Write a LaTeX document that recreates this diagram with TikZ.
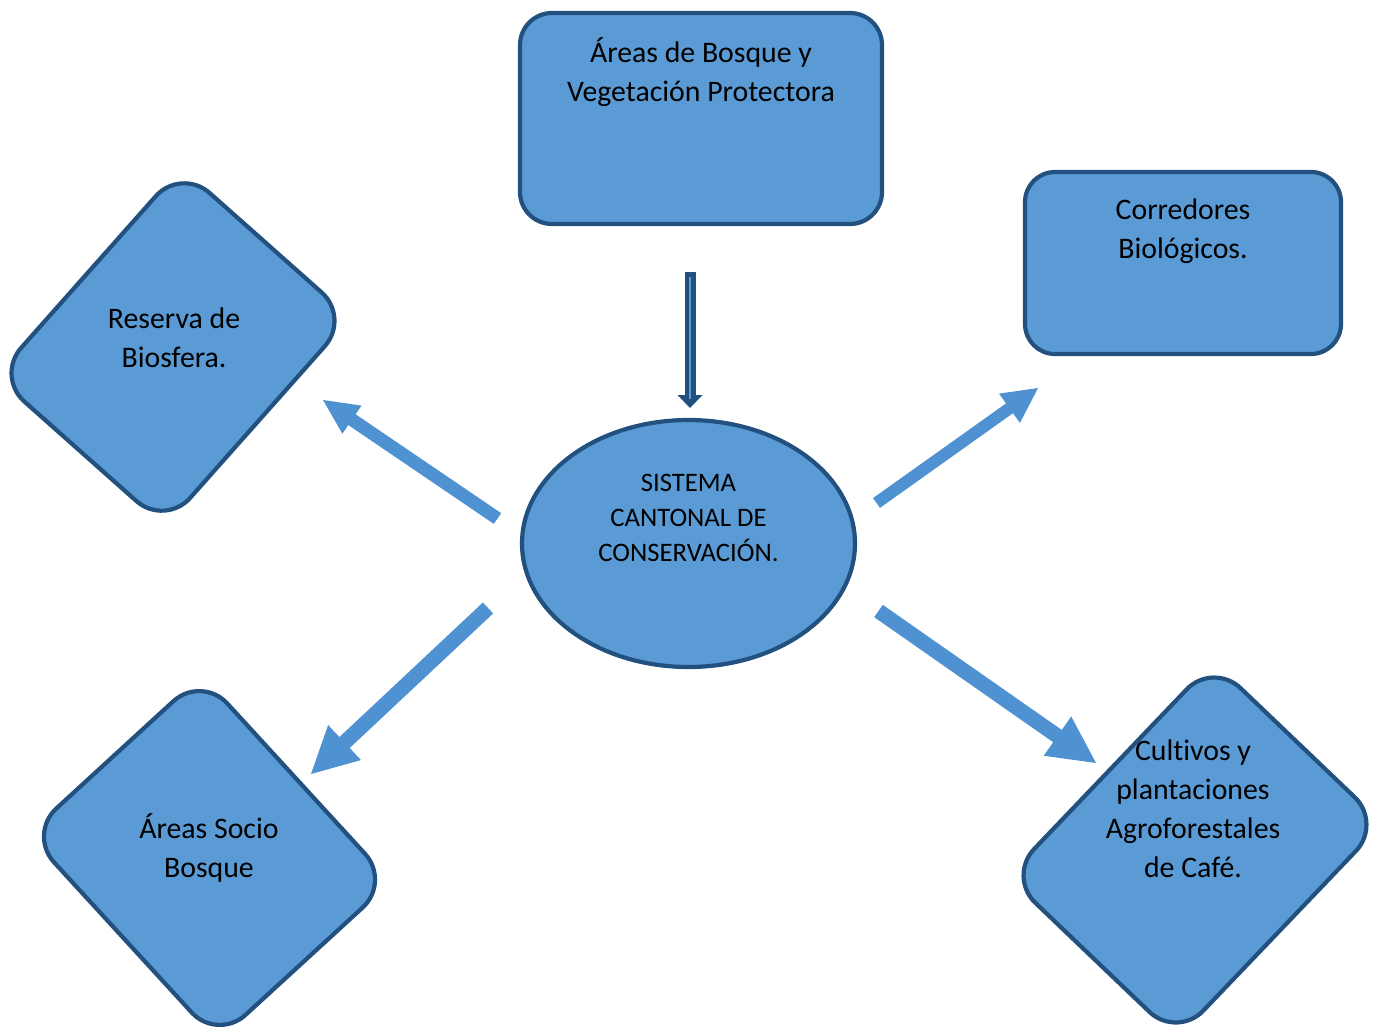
\documentclass[tikz,border=0pt]{standalone}
\usepackage{fontspec}
\setmainfont{Carlito}[Ligatures=NoCommon]
\usetikzlibrary{shapes.geometric,calc}
\definecolor{fillblue}{HTML}{5B9BD5}
\definecolor{edgeblue}{HTML}{22507F}
\definecolor{arrowblue}{HTML}{4F92D2}
\tikzset{
  shapebox/.style={draw=edgeblue, fill=fillblue, line width=4.2pt, inner sep=0pt, outer sep=0pt},
  lbl/.style={align=center, inner sep=0pt, anchor=north, text=black, font=\fontsize{29.8}{39}\selectfont},
  lblsmall/.style={align=center, inner sep=0pt, anchor=north, text=black, font=\fontsize{26.7}{35}\selectfont},
}
% tail, tip, half shaft width, half head width, head length
\newcommand\blkarrow[5]{%
  \coordinate (hb) at ($(#2)!#5!(#1)$);
  \fill[arrowblue] ($(#1)!#3!90:(#2)$) -- ($(hb)!#3!90:(#2)$) -- ($(hb)!#4!90:(#2)$) -- (#2)
    -- ($(hb)!#4!-90:(#2)$) -- ($(hb)!#3!-90:(#2)$) -- ($(#1)!#3!-90:(#2)$) -- cycle;}
\begin{document}
\begin{tikzpicture}[x=1pt,y=-1pt]
\useasboundingbox (0,0) rectangle (1374,1028);
\fill[white] (0,0) rectangle (1374,1028);

% shapes
\node[shapebox, rounded corners=32pt, minimum width=362pt, minimum height=211pt] (top) at (701,118.5) {};
\node[shapebox, rounded corners=30pt, minimum width=316pt, minimum height=182pt] (corr) at (1183,263) {};
\node[shapebox, ellipse, minimum width=333pt, minimum height=247pt] (center) at (688.5,543.5) {};
\node[shapebox, rounded corners=38pt, minimum width=226pt, minimum height=279pt, rotate=-41.6] (res) at (173,347) {};
\node[shapebox, rounded corners=38pt, minimum width=280pt, minimum height=235pt, rotate=-47.5] (socio) at (209.5,858) {};
\node[shapebox, rounded corners=38pt, minimum width=234pt, minimum height=297pt, rotate=-43.7] (cult) at (1195,850) {};

% labels
\node[lbl] (ttop) at (701,34.7) {\strut Áreas de Bosque y\\\strut Vegetación Protectora};
\node[lbl] (tcorr) at (1183,191.7) {\strut Corredores\\\strut Biológicos.};
\node[lbl] (tres) at (174,300.7) {\strut Reserva de\\\strut Biosfera.};
\node[lbl] (tsocio) at (209,810.7) {\strut Áreas Socio\\\strut Bosque};
\node[lbl] (tcult) at (1193,732.7) {\strut Cultivos y\\\strut plantaciones\\\strut Agroforestales\\\strut de Café.};
\node[lblsmall] (tcenter) at (688.5,466.5) {\strut SISTEMA\\\strut CANTONAL DE\\\strut CONSERVACIÓN.};

% down arrow from top box to center
\coordinate (dtail) at (690,272);
\coordinate (dbase) at (690,396);
\coordinate (dtip) at (690,408);
\draw[edgeblue, line width=11pt] (dtail) -- (dbase);
\fill[edgeblue] ($(dbase)+(-12.5,-1)$) -- ($(dbase)+(12.5,-1)$) -- (dtip) -- cycle;
\draw[fillblue, line width=1.5pt] ($(dtail)+(0,5)$) -- ($(dtip)+(0,-9)$);

% block arrows
\coordinate (a1t) at (497.5,518.5); \coordinate (a1h) at (323,400);
\coordinate (a2t) at (876.5,503);   \coordinate (a2h) at (1038,388);
\coordinate (a3t) at (488,608);     \coordinate (a3h) at (311,774);
\coordinate (a4t) at (878.5,611);   \coordinate (a4h) at (1096,763);
\blkarrow{a1t}{a1h}{6.5pt}{17pt}{35pt}
\blkarrow{a2t}{a2h}{6pt}{18pt}{35pt}
\blkarrow{a3t}{a3h}{7.5pt}{24pt}{46pt}
\blkarrow{a4t}{a4h}{7.5pt}{24pt}{47pt}
\end{tikzpicture}
\end{document}
